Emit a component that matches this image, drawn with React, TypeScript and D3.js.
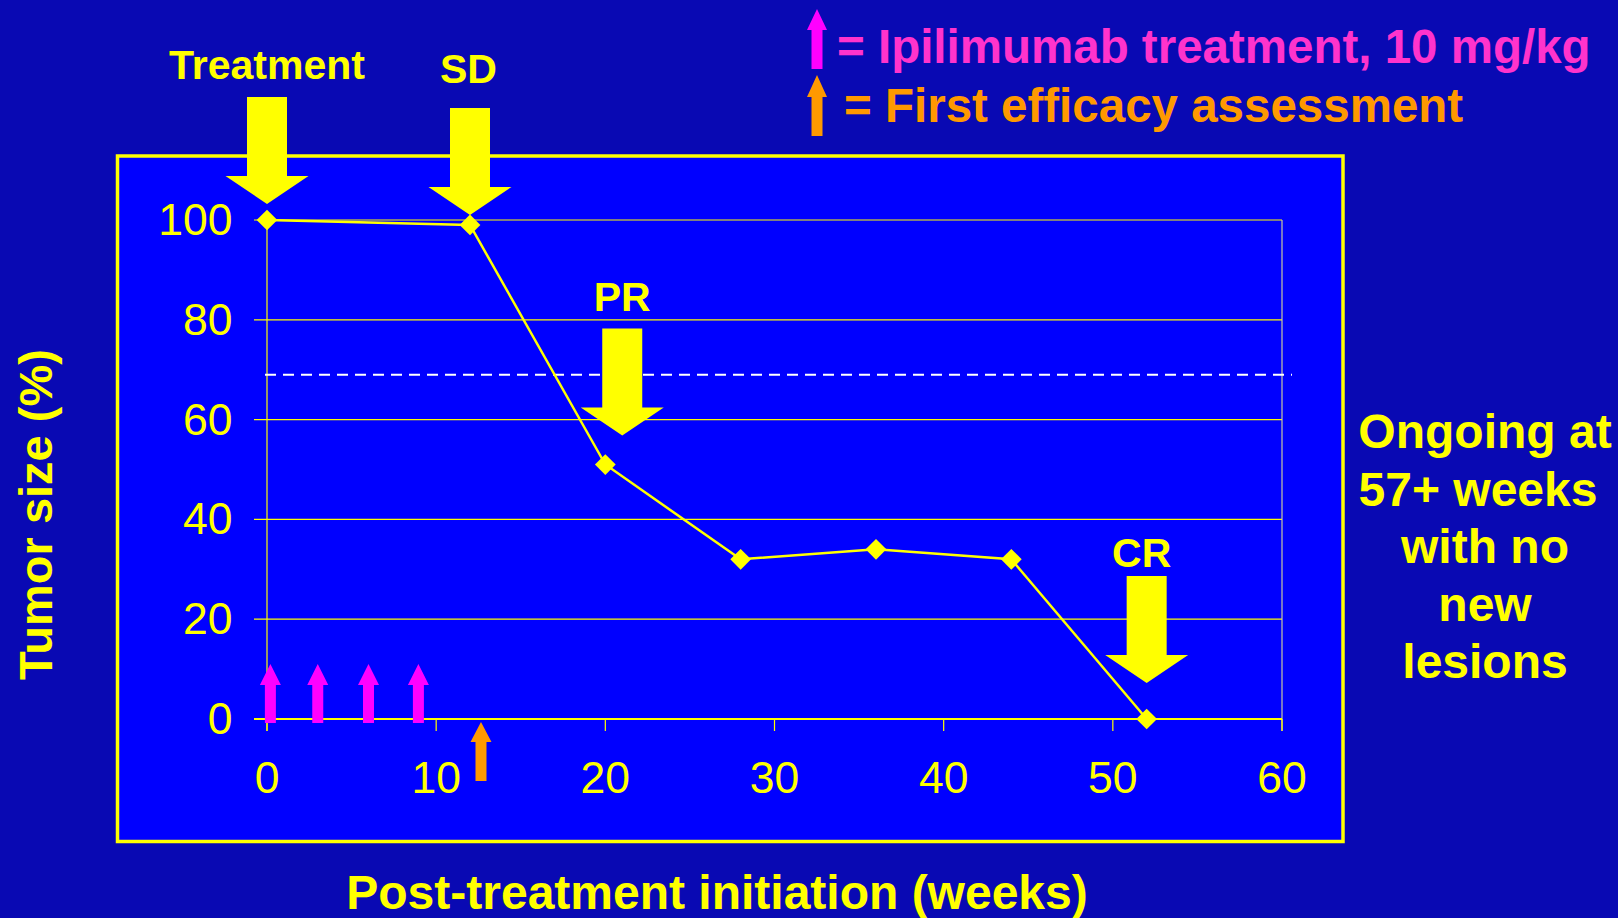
import React from "react";
import * as d3 from "d3";

// ---- data ----
const weeks = [0, 12, 20, 28, 36, 44, 52];
const tumorSize = [100, 99, 51, 32, 34, 32, 0];
const xTicks = [0, 10, 20, 30, 40, 50, 60];
const yTicks = [0, 20, 40, 60, 80, 100];
const prThreshold = 69;
const dosingWeeks = [0.2, 3, 6, 8.95];
const assessmentWeeks = [12.65];
const annotationLabels = ["Treatment", "SD", "PR", "CR"];
const annotationWeeks = [0, 12, 21, 52];
const annotationTips = [103.2, 101, 56.8, 7.2];
const legendLines = ["= Ipilimumab treatment, 10 mg/kg", "= First efficacy assessment"];
const sideNote = ["Ongoing at", "57+ weeks", "with no", "new", "lesions"];
const xTitle = "Post-treatment initiation (weeks)";
const yTitle = "Tumor size (%)";

// ---- layout ----
const W = 1618;
const H = 918;
const FONT = "'Liberation Sans', Arial, Helvetica, sans-serif";
const YELLOW = "#ffff00";
const BG = "#0909b3";
const PANEL = "#0000ff";
const MAGENTA = "#ff00ff";
const PINK_TEXT = "#ff33cc";
const ORANGE = "#ff9900";
const labelOffsets = [
  { dx: 0, dy: -18 },
  { dx: -1.5, dy: -25 },
  { dx: 0, dy: -18 },
  { dx: -5, dy: -9 },
];
const sideNoteDx = [0, -7, 0, 0, 0];

function downArrow(cx: number, tipY: number) {
  const shaftW = 40, headW = 83, headH = 28, total = 107;
  const top = tipY - total;
  const hs = tipY - headH;
  return `M${cx - shaftW / 2},${top} L${cx + shaftW / 2},${top} L${cx + shaftW / 2},${hs} L${cx + headW / 2},${hs} L${cx},${tipY} L${cx - headW / 2},${hs} L${cx - shaftW / 2},${hs} Z`;
}

function upArrow(cx: number, bottom: number, height: number, shaftW: number, headW: number, headH: number) {
  const tip = bottom - height;
  const hs = tip + headH;
  return `M${cx - shaftW / 2},${bottom} L${cx + shaftW / 2},${bottom} L${cx + shaftW / 2},${hs} L${cx + headW / 2},${hs} L${cx},${tip} L${cx - headW / 2},${hs} L${cx - shaftW / 2},${hs} Z`;
}

export default function App() {
  const x = d3.scaleLinear().domain([0, 60]).range([267, 1282]);
  const y = d3.scaleLinear().domain([0, 100]).range([719, 220]);
  const pts = weeks.map((w, i) => [w, tumorSize[i]] as [number, number]);
  const line = d3
    .line<[number, number]>()
    .x((d) => x(d[0]))
    .y((d) => y(d[1]));
  const diamond = d3.symbol().type(d3.symbolSquare).size(215)();

  return (
    <svg
      width={W}
      height={H}
      style={{ position: "absolute", left: 0, top: 0, display: "block" }}
      fontFamily={FONT}
    >
      <rect x={0} y={0} width={W} height={H} fill={BG} />
      <rect x={117.5} y={156} width={1225.5} height={685.5} fill={PANEL} stroke={YELLOW} strokeWidth={3.5} />

      {/* gridlines */}
      {yTicks.map((t) => (
        <line key={"g" + t} x1={x(0) - 13} x2={x(60)} y1={y(t)} y2={y(t)} stroke={YELLOW} strokeWidth={1.2} />
      ))}
      {/* y axis */}
      <line x1={x(0)} x2={x(0)} y1={y(100)} y2={y(0) + 12} stroke={YELLOW} strokeWidth={1.2} />
      <line x1={x(60)} x2={x(60)} y1={y(100)} y2={y(0) + 12} stroke="#c8c8a0" strokeWidth={1.2} />
      {/* x axis */}
      <line x1={x(0) - 13} x2={x(60)} y1={y(0)} y2={y(0)} stroke={YELLOW} strokeWidth={2} />
      {xTicks.map((t) => (
        <line key={"t" + t} x1={x(t)} x2={x(t)} y1={y(0)} y2={y(0) + 12} stroke={YELLOW} strokeWidth={1.2} />
      ))}

      {/* tick labels */}
      {yTicks.map((t) => (
        <text key={"yl" + t} x={232.5} y={y(t) + 15} textAnchor="end" fontSize={44.5} fill={YELLOW}>
          {t}
        </text>
      ))}
      {xTicks.map((t) => (
        <text key={"xl" + t} x={x(t)} y={793} textAnchor="middle" fontSize={44.5} fill={YELLOW}>
          {t}
        </text>
      ))}

      {/* PR threshold dashed line */}
      <line
        x1={x(0) - 2}
        x2={x(60) + 10}
        y1={y(prThreshold)}
        y2={y(prThreshold)}
        stroke="#ffffff"
        strokeWidth={2}
        strokeDasharray="11 7"
      />

      {/* data line */}
      <path d={line(pts) || ""} fill="none" stroke={YELLOW} strokeWidth={2.5} />
      {pts.map((p, i) => (
        <path key={"m" + i} d={diamond || ""} transform={`translate(${x(p[0])},${y(p[1])}) rotate(45)`} fill={YELLOW} />
      ))}

      {/* dosing arrows */}
      {dosingWeeks.map((w, i) => (
        <path key={"d" + i} d={upArrow(x(w), y(0) + 4, 59, 11, 21, 21)} fill={MAGENTA} />
      ))}
      {assessmentWeeks.map((w, i) => (
        <path key={"a" + i} d={upArrow(x(w), y(0) + 62, 59, 11, 21, 20)} fill={ORANGE} />
      ))}

      {/* annotation arrows */}
      {annotationLabels.map((lab, i) => {
        const cx = x(annotationWeeks[i]);
        const tip = y(annotationTips[i]);
        return (
          <g key={"ann" + i}>
            <path d={downArrow(cx, tip)} fill={YELLOW} />
            <text
              x={cx + labelOffsets[i].dx}
              y={tip - 107 + labelOffsets[i].dy}
              textAnchor="middle"
              fontSize={41}
              fontWeight="bold"
              fill={YELLOW}
            >
              {lab}
            </text>
          </g>
        );
      })}

      {/* legend */}
      <path d={upArrow(817, 69, 60, 11, 20, 21)} fill={MAGENTA} />
      <text x={837} y={63} fontSize={47.5} fontWeight="bold" fill={PINK_TEXT}>
        {legendLines[0]}
      </text>
      <path d={upArrow(817, 136, 61, 11, 20, 22)} fill={ORANGE} />
      <text x={844} y={122} fontSize={47.5} fontWeight="bold" fill={ORANGE}>
        {legendLines[1]}
      </text>

      {/* axis titles */}
      <text
        transform="translate(52,514.5) rotate(-90)"
        textAnchor="middle"
        fontSize={47}
        fontWeight="bold"
        fill={YELLOW}
      >
        {yTitle}
      </text>
      <text x={717} y={909} textAnchor="middle" fontSize={48} fontWeight="bold" fill={YELLOW}>
        {xTitle}
      </text>

      {/* side note */}
      {sideNote.map((s, i) => (
        <text
          key={"s" + i}
          x={1485 + sideNoteDx[i]}
          y={448 + i * 57.5}
          textAnchor="middle"
          fontSize={48}
          fontWeight="bold"
          fill={YELLOW}
        >
          {s}
        </text>
      ))}
    </svg>
  );
}
